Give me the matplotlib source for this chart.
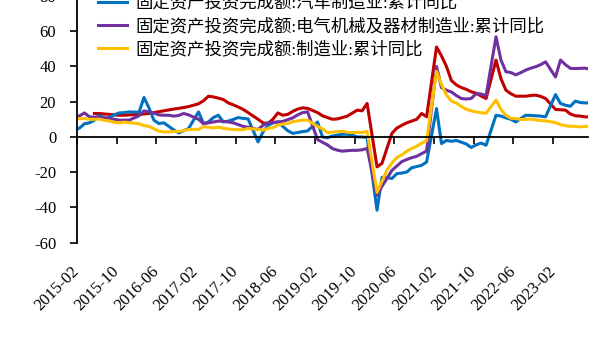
import numpy as np
import pandas as pd
import matplotlib
matplotlib.use("Agg")
import matplotlib.pyplot as plt

plt.rcParams["font.family"] = ["Liberation Serif", "Noto Sans CJK SC"]
plt.rcParams["axes.unicode_minus"] = False

nan = np.nan

# monthly cumulative YoY (%), Dec 2014 .. Sep 2023, January not published
months = pd.period_range("2014-12", "2023-09", freq="M")

red_line = [
    nan, nan,
    nan, nan, nan, 13.3, 13.3, 13.0, 12.8, 12.5, 12.3, 12.3, 12.5,
    nan, 12.8, 13.0, 13.3, 13.8, 14.3, 14.8, 15.3, 15.8, 16.2, 16.7, 17.2,
    nan, 18.8, 20.5, 23.1, 22.7, 22.0, 21.2, 19.3, 18.2, 17.0, 15.6, 13.8,
    nan, 10.0, 8.0, 7.6, 10.0, 13.6, 12.3, 12.8, 14.5, 15.8, 16.5, 16.2,
    nan, 13.8, 12.0, 11.0, 10.0, 10.2, 11.0, 11.8, 13.5, 15.2, 14.8, 19.0,
    nan, -17.0, -15.0, -6.5, 2.0, 5.0, 6.6, 8.0, 9.0, 10.0, 13.3, 11.4,
    nan, 51.0, 46.0, 40.0, 32.0, 29.5, 28.0, 27.0, 25.6, 24.8, 23.2, 21.8,
    nan, 43.6, 33.0, 26.5, 24.5, 23.1, 23.1, 23.1, 23.5, 23.7, 23.0, 21.8,
    nan, 15.6, 15.4, 15.2, 13.0, 12.0, 11.8, 11.4, 11.2,
]

auto = [
    3.0, nan,
    5.0, 7.5, 8.0, 9.5, 12.3, 10.4, 11.0, 12.5, 13.6, 13.8, 14.2,
    nan, 14.0, 22.4, 16.5, 9.5, 7.6, 8.0, 6.0, 4.0, 2.3, 3.5, 4.8,
    nan, 14.2, 7.6, 8.5, 11.0, 12.3, 8.5, 9.0, 9.9, 11.0, 10.5, 10.2,
    nan, -2.8, 2.8, 6.5, 8.0, 8.5, 6.0, 3.5, 2.0, 2.5, 3.0, 3.4,
    nan, 8.5, 0.0, -0.5, 0.5, 1.0, 1.5, 1.5, 1.0, 0.0, 0.0, -0.3,
    nan, -41.6, -23.0, -23.0, -23.6, -20.8, -20.5, -19.9, -17.5, -16.8, -16.1, -14.2,
    nan, 16.1, -3.8, -2.0, -2.5, -2.0, -3.0, -4.0, -6.0, -4.5, -3.5, -4.7,
    nan, 12.3, 11.8, 10.8, 10.0, 8.5, 10.5, 12.3, 12.2, 12.0, 11.8, 11.4,
    nan, 24.0, 19.0, 18.0, 17.4, 20.3, 19.5, 19.3, 19.3,
]

electric = [
    9.6, nan,
    12.0, 13.6, 11.4, 11.2, 11.4, 11.0, 10.4, 10.0, 9.5, 9.5, 9.5,
    nan, 12.0, 14.8, 14.2, 13.5, 12.5, 12.3, 12.3, 11.8, 12.2, 13.3, 12.5,
    nan, 10.0, 7.5, 8.0, 8.5, 9.0, 8.8, 8.5, 8.0, 7.0, 6.0, 5.5,
    nan, 4.2, 6.6, 8.0, 8.2, 8.5, 8.8, 9.8, 10.8, 12.5, 13.8, 14.2,
    nan, -1.5, -3.0, -4.5, -6.6, -7.5, -8.1, -7.8, -7.6, -7.6, -7.3, -6.5,
    nan, -33.1, -28.0, -23.6, -19.0, -16.5, -14.0, -12.8, -11.8, -11.0, -9.5, -8.0,
    nan, 40.0, 28.0, 26.5, 25.5, 23.5, 21.8, 21.5, 21.8, 24.6, 24.3, 23.5,
    nan, 56.8, 43.6, 37.0, 36.5, 35.2, 36.5, 37.9, 39.0, 39.8, 41.0, 42.6,
    nan, 34.0, 43.6, 41.0, 38.9, 38.8, 38.9, 39.0, 38.3,
]

manufacturing = [
    11.2, nan,
    10.4, 10.4, 10.0, 10.0, 10.1, 9.4, 9.1, 8.3, 8.0, 8.4, 8.1,
    nan, 7.5, 6.4, 6.0, 4.6, 3.3, 2.8, 2.8, 3.1, 3.1, 3.6, 4.2,
    nan, 4.3, 5.8, 5.5, 5.1, 5.5, 4.9, 4.5, 4.2, 4.1, 4.1, 4.8,
    nan, 4.3, 3.8, 4.8, 5.2, 6.8, 7.3, 7.5, 8.7, 9.1, 9.5, 9.5,
    nan, 5.9, 4.6, 2.5, 2.7, 3.0, 3.3, 2.6, 2.5, 2.6, 2.5, 3.1,
    nan, -31.5, -25.2, -18.8, -14.8, -11.7, -10.2, -8.1, -6.5, -5.3, -3.5, -2.2,
    nan, 37.3, 29.8, 23.8, 20.4, 19.2, 17.3, 15.7, 14.8, 14.2, 13.7, 13.5,
    nan, 20.9, 15.6, 12.2, 10.6, 10.4, 9.9, 10.0, 10.1, 9.7, 9.3, 9.1,
    nan, 8.1, 7.0, 6.4, 6.0, 6.0, 5.7, 5.9, 6.2,
]

labels = [
    "固定资产投资完成额:汽车制造业:累计同比",
    "固定资产投资完成额:电气机械及器材制造业:累计同比",
    "固定资产投资完成额:制造业:累计同比",
]
colors = ["#C00000", "#0070C0", "#7030A0", "#FFC000"]

tick_labels = ["2015-02", "2015-10", "2016-06", "2017-02", "2017-10",
               "2018-06", "2019-02", "2019-10", "2020-06", "2021-02",
               "2021-10", "2022-06", "2023-02"]

# month slots counted from 2015-02, points sit mid-month
start = months.get_loc(pd.Period("2015-02", "M"))
x = np.arange(len(months)) - start + 0.5
month_str = list(months.strftime("%Y-%m"))
tick_pos = [month_str.index(t) - start for t in tick_labels]

fig = plt.figure(figsize=(6.02, 3.44), dpi=100)
ax = fig.add_axes([0.128, 0.2945, 0.8488, 0.7174])

lines = []
for vals, c in zip([red_line, auto, electric, manufacturing], colors):
    s = pd.Series(vals, index=x).dropna()
    ln, = ax.plot(s.index, s.values, color=c, lw=2.2)
    lines.append(ln)

ax.set_xlim(0, 103.06)
ax.set_ylim(-60, 80)
ax.set_yticks(range(-60, 81, 20))
ax.set_xticks(tick_pos)

for side in ["top", "right"]:
    ax.spines[side].set_visible(False)
ax.spines["bottom"].set_position(("data", 0))
ax.spines["bottom"].set_linewidth(1.3)
ax.spines["left"].set_linewidth(1.3)
ax.tick_params(axis="x", direction="out", length=5, width=1.2, labelbottom=False)
ax.tick_params(axis="y", direction="out", length=5, width=1.2, pad=10, labelsize=12)

# date labels stay at the bottom edge while the axis line sits on zero
sec = ax.secondary_xaxis("bottom")
sec.set_xticks(tick_pos, tick_labels)
sec.spines["bottom"].set_visible(False)
sec.tick_params(length=0, pad=19, labelsize=12)
for lbl in sec.get_xticklabels():
    lbl.set_rotation(45)
    lbl.set_ha("right")
    lbl.set_va("center")
    lbl.set_rotation_mode("anchor")

ax.legend(lines[1:], labels, loc="upper left",
          bbox_to_anchor=(98 / 602, 1 + 5 / 344), bbox_transform=fig.transFigure,
          frameon=False, fontsize=12.5, handlelength=1.67, handletextpad=0.46,
          labelspacing=0.37, borderpad=0, borderaxespad=0)

fig.savefig("out.png", dpi=100)
